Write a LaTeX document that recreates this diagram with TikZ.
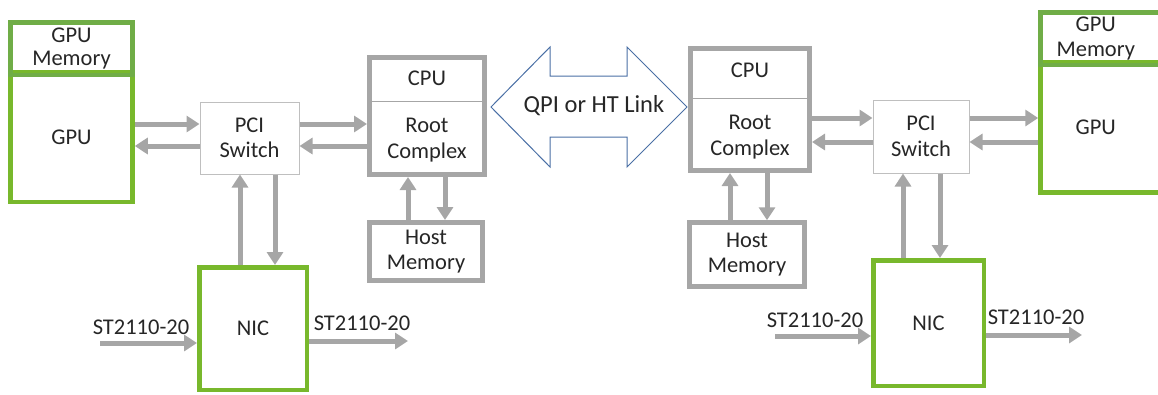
\documentclass[tikz,border=0pt]{standalone}
\usepackage{fontspec}
\setmainfont{Carlito}
\usetikzlibrary{arrows.meta}
\definecolor{grn}{HTML}{78B82C}
\definecolor{grnm}{HTML}{70AD47}
\definecolor{gr}{HTML}{A6A6A6}
\definecolor{lgr}{HTML}{BFBFBF}
\definecolor{blu}{HTML}{4A6FA5}
\definecolor{txt}{HTML}{262626}
\newcommand{\labfont}{\fontsize{22.5}{25.5}\selectfont}
\newcommand{\memfont}{\fontsize{22.5}{22.5}\selectfont}
\newcommand{\qpifont}{\fontsize{24.5}{26}\selectfont}
\begin{document}
\begin{tikzpicture}[x=1pt,y=-1pt,
  every node/.style={text=txt, font=\labfont, align=center, inner sep=0pt},
  grnbox/.style={draw=grn, line width=4.5pt},
  grnmbox/.style={draw=grnm, line width=4.5pt},
  graybox/.style={draw=gr, line width=5pt},
  thinbox/.style={draw=lgr, line width=1pt},
  conn/.style={draw=gr, line width=5pt, -{Triangle[length=13pt,width=16pt]}},
  qpistyle/.style={draw=blu, line width=1pt}]
\useasboundingbox (0,0) rectangle (1158,394);
\clip (0,0) rectangle (1158,394);
% left side boxes
\node[grnbox, minimum width=122pt, minimum height=130pt] (gpuL) at (71.5,137) {GPU};
\node[grnmbox, font=\memfont, minimum width=122pt, minimum height=52.5pt] (gmemL) at (71.5,48.5) {GPU\\Memory};
\node[thinbox, minimum width=99pt, minimum height=72pt] (pciL) at (249.5,138) {PCI\\Switch};
\node[graybox, minimum width=115pt, minimum height=117pt] (cpuL) at (427,116) {};
\draw[draw=gr, line width=1pt] (cpuL.west |- 0,101) -- (cpuL.east |- 0,101);
\node (cpuLt) at (427,78) {CPU};
\node (rcL) at (427,140) {Root\\Complex};
\node[graybox, minimum width=113pt, minimum height=58pt] (hostL) at (426,251.5) {Host\\Memory};
\node[grnbox, minimum width=107.5pt, minimum height=122.5pt] (nicL) at (253,328.5) {NIC};
% right side boxes
\node[graybox, minimum width=119pt, minimum height=122pt] (cpuR) at (750,109.5) {};
\draw[draw=gr, line width=1pt] (cpuR.west |- 0,98) -- (cpuR.east |- 0,98);
\node (cpuRt) at (750,70) {CPU};
\node (rcR) at (750,137) {Root\\Complex};
\node[graybox, minimum width=115pt, minimum height=63.5pt] (hostR) at (747,254.5) {Host\\Memory};
\node[thinbox, minimum width=96pt, minimum height=73pt] (pciR) at (921,136.5) {PCI\\Switch};
\node[grnbox, minimum width=122.5pt, minimum height=130.5pt, text width=108pt] (gpuR) at (1101.75,127.25) {\hspace*{-12pt}GPU};
\node[grnmbox, minimum width=122.5pt, minimum height=52.5pt, text width=108pt] (gmemR) at (1101.75,38.5) {\hspace*{-12pt}GPU\\\hspace*{-12pt}Memory};
\node[grnbox, minimum width=110.5pt, minimum height=125.5pt] (nicR) at (928.5,323) {NIC};
% QPI link
\draw[qpistyle] (491,107) -- (550,47) -- (550,76) -- (627,76) -- (627,47) -- (687,107)
  -- (627,167) -- (627,137) -- (550,137) -- (550,167) -- cycle;
\node[font=\qpifont] (qpi) at (594,106) {QPI or HT Link};
% left connectors
\draw[conn] (gpuL.east |- 0,124) -- (pciL.west |- 0,124);
\draw[conn] (pciL.west |- 0,146) -- (gpuL.east |- 0,146);
\draw[conn] (pciL.east |- 0,124) -- (cpuL.west |- 0,124);
\draw[conn] (cpuL.west |- 0,146) -- (pciL.east |- 0,146);
\draw[conn] (hostL.north -| 408,0) -- (cpuL.south -| 408,0);
\draw[conn] (cpuL.south -| 445,0) -- (hostL.north -| 445,0);
\draw[conn] (nicL.north -| 240,0) -- (pciL.south -| 240,0);
\draw[conn] (pciL.south -| 275,0) -- (nicL.north -| 275,0);
\coordinate (inL) at (100,343);
\coordinate (outL) at (408,341);
\draw[conn] (inL) -- (nicL.west |- inL);
\draw[conn] (nicL.east |- outL) -- (outL);
\node (labInL) at (141,327) {ST2110-20};
\node (labOutL) at (362,323) {ST2110-20};
% right connectors
\draw[conn] (cpuR.east |- 0,118) -- (pciR.west |- 0,118);
\draw[conn] (pciR.west |- 0,142) -- (cpuR.east |- 0,142);
\draw[conn] (pciR.east |- 0,118) -- (gpuR.west |- 0,118);
\draw[conn] (gpuR.west |- 0,142) -- (pciR.east |- 0,142);
\draw[conn] (hostR.north -| 730,0) -- (cpuR.south -| 730,0);
\draw[conn] (cpuR.south -| 767,0) -- (hostR.north -| 767,0);
\draw[conn] (nicR.north -| 903,0) -- (pciR.south -| 903,0);
\draw[conn] (pciR.south -| 940,0) -- (nicR.north -| 940,0);
\coordinate (inR) at (775,336);
\coordinate (outR) at (1082,335);
\draw[conn] (inR) -- (nicR.west |- inR);
\draw[conn] (nicR.east |- outR) -- (outR);
\node (labInR) at (815,320) {ST2110-20};
\node (labOutR) at (1036,317) {ST2110-20};
\end{tikzpicture}
\end{document}
